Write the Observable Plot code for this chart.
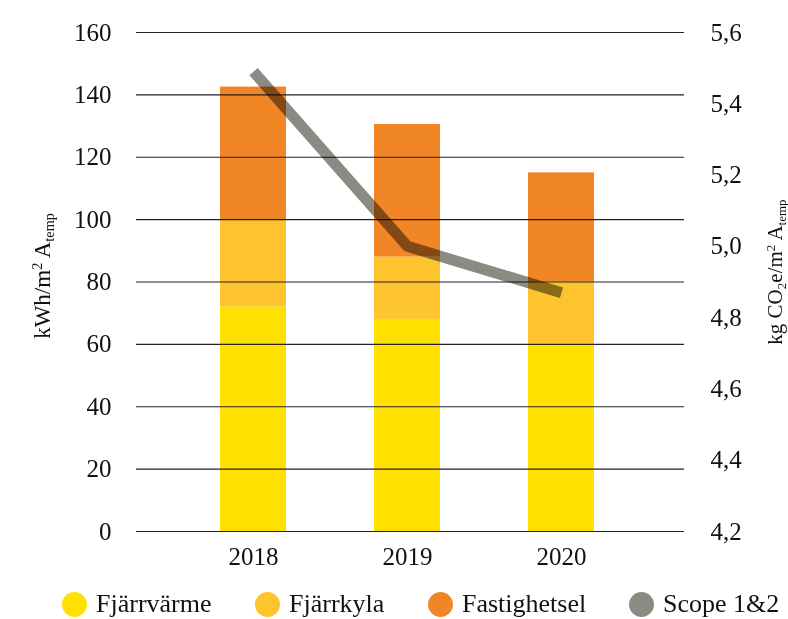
<!DOCTYPE html>
<html>
<head>
<meta charset="utf-8">
<script src="https://cdn.jsdelivr.net/npm/d3@7"></script>
<script src="https://cdn.jsdelivr.net/npm/@observablehq/plot@0.6"></script>
<style>
  html, body { margin: 0; padding: 0; background: #fff; }
  #wrap { position: relative; width: 788px; height: 619px; font-family: "Liberation Serif", serif; color: #111; }
  #chart svg { display: block; }
  .ytitle { position: absolute; white-space: nowrap; transform: translate(-50%, -50%) rotate(-90deg); line-height: 1; }
  .ytitle sub { font-size: 0.62em; vertical-align: -0.25em; }
  .ytitle sup { font-size: 0.62em; vertical-align: 0.55em; }
  #legend { position: absolute; left: 0; top: 591px; width: 788px; height: 28px; }
  .item { position: absolute; top: 0; display: flex; align-items: center; height: 26px; font-size: 26px; white-space: nowrap; }
  .sw { width: 25px; height: 25px; border-radius: 50%; margin-right: 9px; flex: none; }
</style>
</head>
<body>
<div id="wrap">
  <div id="chart"></div>
  <div class="ytitle" style="left:43px; top:276px; font-size:23px;">kWh/m<sup>2</sup> A<sub>temp</sub></div>
  <div class="ytitle" style="left:776px; top:272px; font-size:21px;">kg CO<sub>2</sub>e/m<sup>2</sup> A<sub>temp</sub></div>
  <div id="legend"></div>
</div>
<script>
// ---- data ----
const years = ["2018", "2019", "2020"];
const fjarrvarme = [72, 68, 60];
const fjarrkyla = [28, 20, 20];
const fastighetsel = [42.5, 42.5, 35];
const scope12 = [5.49, 5.00, 4.87];
const seriesNames = ["Fjärrvärme", "Fjärrkyla", "Fastighetsel"];
const seriesColors = ["#FFE000", "#FEC42E", "#F08626"];
const lineName = "Scope 1&2";
const lineColor = "#8b8a83";
const leftTicks = [0, 20, 40, 60, 80, 100, 120, 140, 160];
const rightTicks = [4.2, 4.4, 4.6, 4.8, 5.0, 5.2, 5.4, 5.6];

// ---- build tables ----
const seriesValues = [fjarrvarme, fjarrkyla, fastighetsel];
const bars = [];
seriesNames.forEach((s, si) => years.forEach((y, yi) => bars.push({year: y, series: s, value: seriesValues[si][yi]})));
const lineData = years.map((y, i) => ({year: y, co2: scope12[i]}));

const co2ToY = d3.scaleLinear([4.2, 5.6], [0, 160]);
const fmt = d3.format(".1f");

const W = 788, H = 575;
const chart = Plot.plot({
  width: W,
  height: H,
  marginLeft: 136,
  marginRight: 104,
  marginTop: 32,
  marginBottom: 44,
  style: {fontFamily: "Liberation Serif, serif", fontSize: "24px", color: "#111", background: "transparent"},
  x: {type: "band", domain: years, range: [176, 639], paddingInner: 0.569, paddingOuter: 0.2845, label: null},
  y: {domain: [0, 160], label: null},
  color: {domain: seriesNames, range: seriesColors},
  marks: [
    Plot.barY(bars, {x: "year", y: "value", fill: "series", order: seriesNames}),
    Plot.ruleY(leftTicks, {stroke: "#222", strokeWidth: 1.2}),
    Plot.line(lineData, {x: "year", y: d => co2ToY(d.co2), stroke: lineColor, strokeWidth: 11, strokeLinecap: "butt", strokeLinejoin: "miter", mixBlendMode: "multiply"}),
    Plot.axisY({anchor: "left", ticks: leftTicks, tickSize: 0, tickPadding: 25, label: null, fontSize: 25}),
    Plot.axisY({anchor: "right", ticks: rightTicks.map(v => co2ToY(v)), tickFormat: d => fmt(co2ToY.invert(d)).replace(".", ","), tickSize: 0, tickPadding: 26, label: null, fontSize: 25}),
    Plot.axisX({tickSize: 0, tickPadding: 16, label: null, fontSize: 25})
  ]
});
document.getElementById("chart").appendChild(chart);

// ---- legend ----
const legendItems = seriesNames.map((s, i) => ({name: s, color: seriesColors[i]})).concat([{name: lineName, color: lineColor}]);
const legendLeft = [62, 255, 428, 629];
const legend = document.getElementById("legend");
legendItems.forEach((it, i) => {
  const el = document.createElement("div");
  el.className = "item";
  el.style.left = legendLeft[i] + "px";
  const sw = document.createElement("span");
  sw.className = "sw";
  sw.style.background = it.color;
  const tx = document.createElement("span");
  tx.textContent = it.name;
  el.appendChild(sw);
  el.appendChild(tx);
  legend.appendChild(el);
});
</script>
</body>
</html>
